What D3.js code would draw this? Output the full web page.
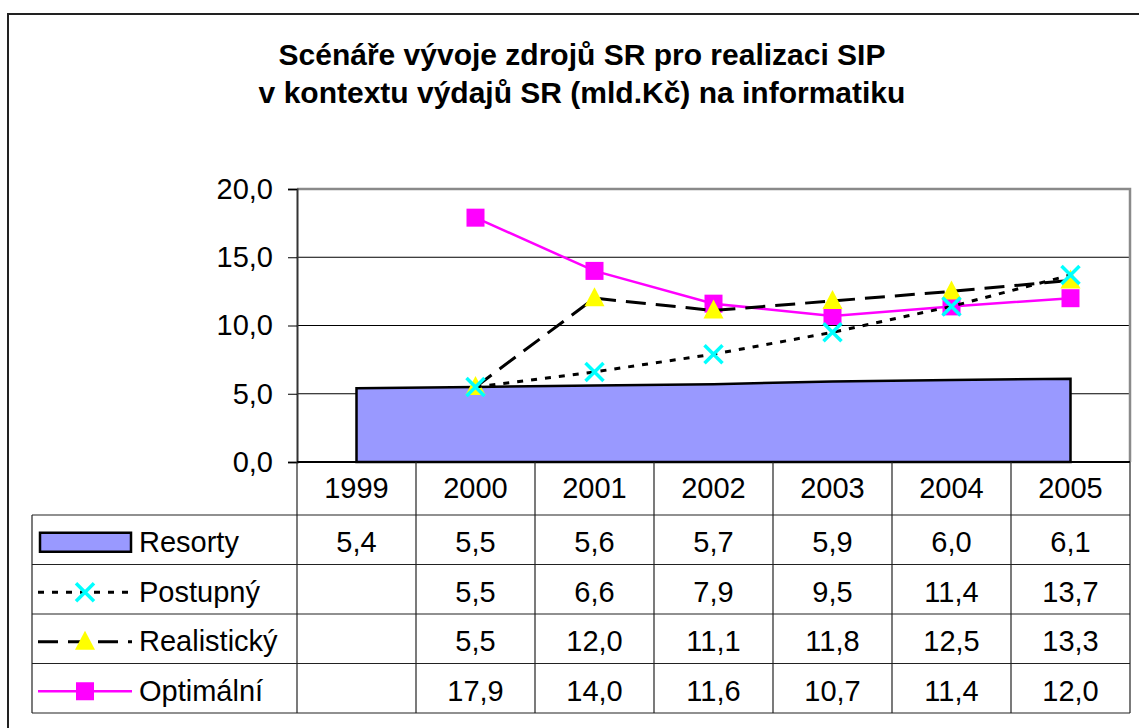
<!DOCTYPE html>
<html>
<head>
<meta charset="utf-8">
<script src="https://cdn.jsdelivr.net/npm/d3@7"></script>
<style>
  body { margin: 0; background: #fff; }
  svg { display: block; }
  text { font-family: "Liberation Sans", Arial, sans-serif; fill: #000; }
</style>
</head>
<body>
<svg id="chart" width="1139" height="728"></svg>
<script>
// data
const years = ["1999", "2000", "2001", "2002", "2003", "2004", "2005"];
const resorty = [5.4, 5.5, 5.6, 5.7, 5.9, 6.0, 6.1];
const postupny = [null, 5.5, 6.6, 7.9, 9.5, 11.4, 13.7];
const realisticky = [null, 5.5, 12.0, 11.1, 11.8, 12.5, 13.3];
const optimalni = [null, 17.9, 14.0, 11.6, 10.7, 11.4, 12.0];
const seriesNames = ["Resorty", "Postupný", "Realistický", "Optimální"];
const yTicks = [0, 5, 10, 15, 20];
const titleLines = ["Scénáře vývoje zdrojů SR pro realizaci SIP", "v kontextu výdajů SR (mld.Kč) na informatiku"];

const svg = d3.select("#chart");
const fmt = v => v == null ? "" : d3.format(".1f")(v).replace(".", ",");

// plot area
const plotLeft = 297, plotRight = 1130, plotTop = 189, plotBottom = 462;
const x = d3.scaleBand().domain(years).range([plotLeft, plotRight]).padding(0);
const y = d3.scaleLinear().domain([0, 20]).range([plotBottom, plotTop]);
const cx = d => x(d) + x.bandwidth() / 2;

// outer chart frame (right and bottom edges fall outside the picture)
svg.append("rect")
  .attr("x", 8).attr("y", 14).attr("width", 1160).attr("height", 740)
  .attr("fill", "none").attr("stroke", "#222").attr("stroke-width", 2);

// title
svg.append("text")
  .attr("text-anchor", "middle")
  .attr("font-size", 30).attr("font-weight", "bold")
  .selectAll("tspan")
  .data(titleLines)
  .join("tspan")
  .attr("x", 582)
  .attr("y", (d, i) => 65 + i * 38)
  .text(d => d);

// gridlines
svg.append("g")
  .selectAll("line")
  .data(yTicks.filter(t => t > 0 && t < 20))
  .join("line")
  .attr("x1", plotLeft).attr("x2", plotRight)
  .attr("y1", d => y(d)).attr("y2", d => y(d))
  .attr("stroke", "#000").attr("stroke-width", 1);

// plot border top / right in grey
svg.append("path")
  .attr("d", `M${plotLeft},${plotTop}H${plotRight}V${plotBottom}`)
  .attr("fill", "none").attr("stroke", "#8a8a8a").attr("stroke-width", 2.5);

// y axis
const yAxis = svg.append("g")
  .attr("transform", `translate(${plotLeft},0)`)
  .call(d3.axisLeft(y).tickValues(yTicks).tickSize(9).tickPadding(15).tickFormat(fmt));
yAxis.select(".domain").attr("stroke", "#333").attr("stroke-width", 2);
yAxis.selectAll(".tick line").attr("stroke", "#000");
yAxis.selectAll("text").attr("font-size", 29).attr("font-family", "Liberation Sans, Arial, sans-serif").attr("fill", "#000");

// area: Resorty
const area = d3.area()
  .x((d, i) => cx(years[i]))
  .y0(y(0))
  .y1(d => y(d));
svg.append("path")
  .datum(resorty)
  .attr("d", area)
  .attr("fill", "#9999ff")
  .attr("stroke", "#000").attr("stroke-width", 2.5)
  .attr("stroke-linejoin", "miter");

// x axis line
svg.append("line")
  .attr("x1", plotLeft).attr("x2", plotRight)
  .attr("y1", plotBottom).attr("y2", plotBottom)
  .attr("stroke", "#000").attr("stroke-width", 2);

// line series
const line = d3.line()
  .defined(d => d != null)
  .x((d, i) => cx(years[i]))
  .y(d => y(d));

const series = [
  { name: "Optimální", values: optimalni, color: "#ff00ff", dash: null, width: 2.5, marker: "square" },
  { name: "Realistický", values: realisticky, color: "#000", dash: "20,10", width: 3, marker: "triangle" },
  { name: "Postupný", values: postupny, color: "#000", dash: "6,8", width: 3, marker: "x" },
];

function drawMarker(g, kind, px, py) {
  if (kind === "square") {
    g.append("rect").attr("x", px - 9).attr("y", py - 9).attr("width", 18).attr("height", 18)
      .attr("fill", "#ff00ff");
  } else if (kind === "triangle") {
    g.append("path").attr("d", `M${px},${py - 11}L${px + 10},${py + 8}L${px - 10},${py + 8}Z`)
      .attr("fill", "#ffff00");
  } else {
    g.append("path").attr("d", `M${px - 9},${py - 9}L${px + 9},${py + 9}M${px - 9},${py + 9}L${px + 9},${py - 9}`)
      .attr("stroke", "#00ffff").attr("stroke-width", 3.5).attr("fill", "none");
  }
}

series.forEach(s => {
  const g = svg.append("g");
  g.append("path")
    .datum(s.values)
    .attr("d", line)
    .attr("fill", "none")
    .attr("stroke", s.color)
    .attr("stroke-width", s.width)
    .attr("stroke-dasharray", s.dash);
  s.values.forEach((v, i) => {
    if (v != null) drawMarker(g, s.marker, cx(years[i]), y(v));
  });
});

// data table
const rowTop = 515, rowH = 49.5, tableLeft = 32;
const rows = [resorty, postupny, realisticky, optimalni];
const table = svg.append("g");

// horizontal rules
table.selectAll("line.h")
  .data(d3.range(rows.length + 1))
  .join("line")
  .attr("class", "h")
  .attr("x1", tableLeft).attr("x2", plotRight)
  .attr("y1", i => rowTop + i * rowH).attr("y2", i => rowTop + i * rowH)
  .attr("stroke", "#222").attr("stroke-width", 1.2);

// vertical rules (category ticks run down through the table)
table.selectAll("line.v")
  .data(years.map(d => x(d)).concat([plotRight]))
  .join("line")
  .attr("class", "v")
  .attr("x1", d => d).attr("x2", d => d)
  .attr("y1", plotBottom).attr("y2", rowTop + rows.length * rowH)
  .attr("stroke", "#222").attr("stroke-width", 1.2);
table.append("line")
  .attr("x1", tableLeft).attr("x2", tableLeft)
  .attr("y1", rowTop).attr("y2", rowTop + rows.length * rowH)
  .attr("stroke", "#222").attr("stroke-width", 1.2);

// header years
table.selectAll("text.year")
  .data(years)
  .join("text")
  .attr("class", "year")
  .attr("x", d => cx(d)).attr("y", 498)
  .attr("text-anchor", "middle").attr("font-size", 29)
  .text(d => d);

// values
rows.forEach((vals, r) => {
  table.selectAll(`text.r${r}`)
    .data(vals)
    .join("text")
    .attr("class", `r${r}`)
    .attr("x", (d, i) => cx(years[i]))
    .attr("y", rowTop + r * rowH + 37)
    .attr("text-anchor", "middle").attr("font-size", 29)
    .text(d => fmt(d));
});

// row labels with legend keys
seriesNames.forEach((name, r) => {
  const ky = rowTop + r * rowH + rowH / 2 + 3;
  const g = table.append("g");
  if (r === 0) {
    g.append("rect").attr("x", 40).attr("y", ky - 10).attr("width", 91).attr("height", 19)
      .attr("fill", "#9999ff").attr("stroke", "#000").attr("stroke-width", 2.5);
  } else {
    const s = series.find(d => d.name === name);
    g.append("line").attr("x1", 38).attr("x2", 132).attr("y1", ky).attr("y2", ky)
      .attr("stroke", s.color).attr("stroke-width", s.width).attr("stroke-dasharray", s.dash);
    drawMarker(g, s.marker, 85, ky);
  }
  g.append("text").attr("x", 139).attr("y", rowTop + r * rowH + 37)
    .attr("font-size", 29).text(name);
});
</script>
</body>
</html>
